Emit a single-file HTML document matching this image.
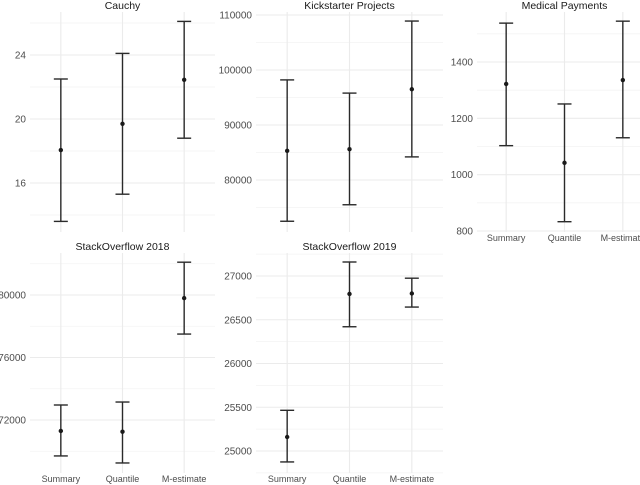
<!DOCTYPE html>
<html><head><meta charset="utf-8"><style>
html,body{margin:0;padding:0;background:#fff;width:640px;height:485px;overflow:hidden}
svg{display:block;font-family:"Liberation Sans",sans-serif}
</style></head><body>
<svg id="chart" width="640" height="485"></svg>
<script>
const categories = ["Summary","Quantile","M-estimate"];
// Cauchy
const cauchyMid = [18.06, 19.7, 22.45];
const cauchyLow = [13.6, 15.3, 18.8];
const cauchyHigh = [22.5, 24.1, 26.1];
const cauchyTicks = [16, 20, 24];
// Kickstarter
const kickMid = [85300, 85600, 96500];
const kickLow = [72500, 75500, 84200];
const kickHigh = [98200, 95800, 108900];
const kickTicks = [80000, 90000, 100000, 110000];
// Medical
const medMid = [1322, 1042, 1336];
const medLow = [1103, 833, 1131];
const medHigh = [1538, 1251, 1545];
const medTicks = [800, 1000, 1200, 1400];
// SO 2018
const so18Mid = [71300, 71250, 79800];
const so18Low = [69700, 69250, 77500];
const so18High = [72960, 73150, 82100];
const so18Ticks = [72000, 76000, 80000];
// SO 2019
const so19Mid = [25160, 26795, 26800];
const so19Low = [24875, 26420, 26645];
const so19High = [25465, 27160, 26975];
const so19Ticks = [25000, 25500, 26000, 26500, 27000];

const NS = "http://www.w3.org/2000/svg";
const svg = document.getElementById("chart");
function mk(tag, attrs, parent){const e=document.createElementNS(NS,tag);for(const k in attrs)e.setAttribute(k,attrs[k]);(parent||svg).appendChild(e);return e;}

const panels = [
 {title:"Cauchy", slug:"cauchy", mid:cauchyMid, low:cauchyLow, high:cauchyHigh, ticks:cauchyTicks,
  x0:30,x1:215,y0:12,y1:232, ref:[16,183,24,55], xlabels:false, minor:[14,18,22,26]},
 {title:"Kickstarter Projects", slug:"kickstarter", mid:kickMid, low:kickLow, high:kickHigh, ticks:kickTicks,
  x0:256,x1:443,y0:12,y1:232, ref:[80000,180,110000,15], xlabels:false, minor:[75000,85000,95000,105000]},
 {title:"Medical Payments", slug:"medical", mid:medMid, low:medLow, high:medHigh, ticks:medTicks,
  x0:477,x1:652,y0:12,y1:232, ref:[800,231,1400,62], xlabels:true, minor:[900,1100,1300,1500]},
 {title:"StackOverflow 2018", slug:"so2018", mid:so18Mid, low:so18Low, high:so18High, ticks:so18Ticks,
  x0:30,x1:215,y0:253,y1:473, ref:[72000,420,80000,295], xlabels:true, minor:[70000,74000,78000,82000]},
 {title:"StackOverflow 2019", slug:"so2019", mid:so19Mid, low:so19Low, high:so19High, ticks:so19Ticks,
  x0:256,x1:443,y0:253,y1:473, ref:[25000,451,27000,276], xlabels:true, minor:[24750,25250,25750,26250,26750,27250]}
];

panels.forEach(p=>{
  const g = mk("g",{});
  
  
  const [v0,py0,v1,py1] = p.ref;
  const y = v => py0 + (v - v0) * (py1 - py0) / (v1 - v0);
  const w = p.x1 - p.x0, step = w/3;
  const x = i => p.x0 + step*(i+0.5);
  p.minor.forEach(v=>{const yy=y(v); if(yy>=p.y0&&yy<=p.y1){
    const l=mk("line",{x1:p.x0,x2:p.x1,y1:yy,y2:yy,stroke:"#f3f3f3","stroke-width":0.8},g);
     }});
  p.ticks.forEach(v=>{const yy=y(v);
    const l=mk("line",{x1:p.x0,x2:p.x1,y1:yy,y2:yy,stroke:"#ebebeb","stroke-width":1.1},g);
     
    const t=mk("text",{x:p.x0-4,y:yy+3.5,"text-anchor":"end","font-size":"10",fill:"#4d4d4d"},g);
    t.textContent=v;
     });
  categories.forEach((c,i)=>{
    const l=mk("line",{x1:x(i),x2:x(i),y1:p.y0,y2:p.y1,stroke:"#ebebeb","stroke-width":1.1},g);
     
    if(p.xlabels){const t=mk("text",{x:x(i),y:p.y1+9,"text-anchor":"middle","font-size":"9",fill:"#4d4d4d"},g);
      t.textContent=c;  }
  });
  const tt=mk("text",{x:x(1),y:p.y0-3,"text-anchor":"middle","font-size":"10.5",fill:"#1a1a1a"},g);
  tt.textContent=p.title;
   
  categories.forEach((c,i)=>{
    const eb=mk("g",{stroke:"#2a2a2a","stroke-width":1.4},g);
    
    
    mk("line",{x1:x(i),x2:x(i),y1:y(p.low[i]),y2:y(p.high[i])},eb);
    mk("line",{x1:x(i)-7,x2:x(i)+7,y1:y(p.low[i]),y2:y(p.low[i])},eb);
    mk("line",{x1:x(i)-7,x2:x(i)+7,y1:y(p.high[i]),y2:y(p.high[i])},eb);
    const pt=mk("circle",{cx:x(i),cy:y(p.mid[i]),r:2.2,fill:"#1a1a1a"},g);
    
    
  });
});
</script>
</body></html>
